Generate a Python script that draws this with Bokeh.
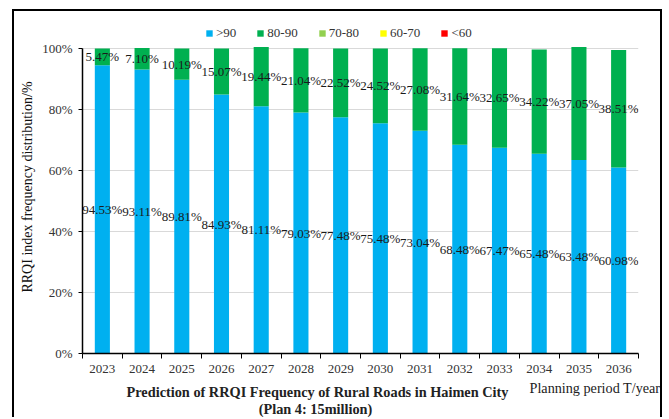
from bokeh.plotting import figure
from bokeh.models import (ColumnDataSource, Legend, LegendItem, FixedTicker, Range1d)
from bokeh.core.properties import value
from bokeh.embed import file_html
from bokeh.resources import INLINE

years = ["2023", "2024", "2025", "2026", "2027", "2028", "2029",
         "2030", "2031", "2032", "2033", "2034", "2035", "2036"]
gt90 = [94.53, 93.11, 89.81, 84.93, 81.11, 79.03, 77.48,
        75.48, 73.04, 68.48, 67.47, 65.48, 63.48, 60.98]
r80_90 = [5.47, 7.10, 10.19, 15.07, 19.44, 21.04, 22.52,
          24.52, 27.08, 31.64, 32.65, 34.22, 37.05, 38.51]
r70_80 = [0] * 14
r60_70 = [0] * 14
lt60 = [0] * 14
series_names = [">90", "80-90", "70-80", "60-70", "<60"]
colors = ["#00B0F0", "#00B050", "#92D050", "#FFFF00", "#FF0000"]
y_ticks = [0, 20, 40, 60, 80, 100]
x_title = ["Prediction of RRQI Frequency of Rural Roads in Haimen City",
           "(Plan 4: 15million)"]
x_unit = "Planning period T/year"

FONT = "Liberation Serif"
BORDER = "2px solid black"
idx = list(range(len(years)))
series = [gt90, r80_90, r70_80, r60_70, lt60]
keys = ["s0", "s1", "s2", "s3", "s4"]
data = dict(x=idx)
bottom = [0.0] * len(years)
for k, s in zip(keys, series):
    data["b_" + k] = list(bottom)
    bottom = [b + v for b, v in zip(bottom, s)]
    data["t_" + k] = list(bottom)
data["mid0"] = [v / 2 for v in gt90]
data["mid1"] = [a + b / 2 for a, b in zip(gt90, r80_90)]
data["lab0"] = ["%.2f%%" % v for v in gt90]
data["lab1"] = ["%.2f%%" % v for v in r80_90]
src = ColumnDataSource(data)

# canvas starts at page (14, 11); frame x 82..638, y(100%)=48, y(0%)=353
p = figure(width=650, height=367, output_backend="svg", toolbar_location=None,
           x_range=(-0.5, len(years) - 0.5), y_range=(0, 109.2),
           min_border_left=68, min_border_right=26, min_border_top=9,
           min_border_bottom=25, outline_line_color=None)
p.styles = {"margin-left": "12px", "margin-top": "9px", "border-top": BORDER,
            "border-left": BORDER, "border-right": BORDER}

renderers = []
for k, c in zip(keys, colors):
    r = p.vbar(x="x", bottom="b_" + k, top="t_" + k, width=0.38, source=src,
               fill_color=c, line_color=None)
    renderers.append(r)

p.text(x="x", y="mid0", text="lab0", source=src, text_font=value(FONT),
       text_font_size="13px", text_align="center", text_baseline="middle",
       text_color="#1a1a1a")
p.text(x="x", y="mid1", text="lab1", source=src, text_font=value(FONT),
       text_font_size="13px", text_align="center", text_baseline="middle",
       text_color="#1a1a1a")

# axes
p.xaxis.ticker = FixedTicker(ticks=idx,
                             minor_ticks=[i - 0.5 for i in range(len(years) + 1)])
p.xaxis.major_label_overrides = {i: y for i, y in enumerate(years)}
p.xaxis.major_tick_line_color = None
p.xaxis.minor_tick_line_color = "black"
p.xaxis.minor_tick_out = 5
p.xaxis.minor_tick_in = 0
p.xaxis.axis_line_color = "black"
p.xaxis.axis_line_width = 1.5
p.xaxis.major_label_text_font = FONT
p.xaxis.major_label_text_font_size = "13px"
p.xaxis.major_label_text_color = "#333333"
p.xaxis.major_label_standoff = 5

p.yaxis.ticker = FixedTicker(ticks=y_ticks)
p.yaxis.bounds = (0, 100)
p.yaxis.major_label_overrides = {t: "%d%%" % t for t in y_ticks}
p.yaxis.minor_tick_line_color = None
p.yaxis.major_tick_out = 4
p.yaxis.major_tick_in = 0
p.yaxis.axis_line_color = "black"
p.yaxis.axis_line_width = 1.5
p.yaxis.major_label_text_font = FONT
p.yaxis.major_label_text_font_size = "13px"
p.yaxis.major_label_text_color = "#333333"
p.yaxis.major_label_standoff = 6
p.yaxis.axis_label = "RRQI index frequency distribution/%"
p.yaxis.axis_label_text_font = FONT
p.yaxis.axis_label_text_font_style = "normal"
p.yaxis.axis_label_text_font_size = "14px"
p.yaxis.axis_label_text_color = "#111111"
p.yaxis.axis_label_standoff = 4

p.xgrid.grid_line_color = None
p.ygrid.grid_line_color = "#d9d9d9"
p.ygrid.grid_line_width = 1

# legend in the headroom above the 100% line
items = [LegendItem(label=n, renderers=[r]) for n, r in zip(series_names, renderers)]
leg = Legend(items=items, orientation="horizontal", location=(123, 312),
             label_text_font=FONT, label_text_font_size="13px",
             label_text_color="#333333", glyph_width=8, glyph_height=8,
             label_standoff=3, spacing=20, padding=2, margin=0,
             label_height=12, border_line_color=None, background_fill_alpha=0)
p.add_layout(leg, "center")

# bottom strip (separate root, page-pixel coordinates, y downwards)
pb = figure(width=650, height=41, output_backend="svg", toolbar_location=None,
            x_range=Range1d(14, 664), y_range=Range1d(41, 0),
            min_border=0, outline_line_color=None)
pb.styles = {"margin-left": "12px", "border-left": BORDER, "border-right": BORDER}
pb.axis.visible = False
pb.grid.visible = False
pb.text(x=[529], y=[11], text=[x_unit], text_font=value(FONT),
        text_font_size="14.2px", text_align="left", text_baseline="middle",
        text_color="#222222")
pb.text(x=[317, 315], y=[15, 32], text=x_title, text_font=value(FONT),
        text_font_size="14.3px", text_font_style="bold", text_align="center",
        text_baseline="middle", text_color="#222222")

open("out.html", "w").write(file_html([p, pb], INLINE))
